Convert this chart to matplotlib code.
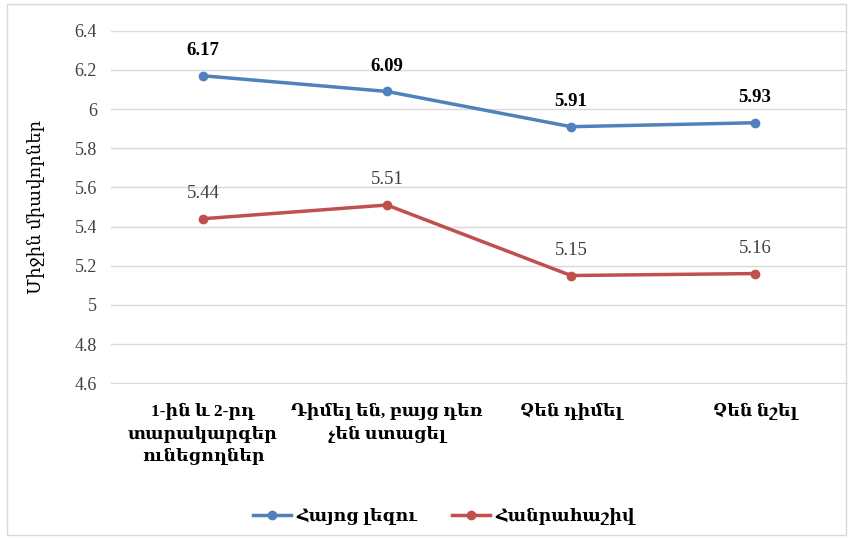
import matplotlib.pyplot as plt
import numpy as np

plt.rcParams['font.family'] = ['Liberation Serif', 'DejaVu Serif', 'DejaVu Sans']

# data
categories = ["1-ին և 2-րդ\nտարակարգեր\nունեցողներ",
              "Դիմել են, բայց դեռ\nչեն ստացել",
              "Չեն դիմել",
              "Չեն նշել"]
armenian_lang = [6.17, 6.09, 5.91, 5.93]
algebra = [5.44, 5.51, 5.15, 5.16]
series_names = ["Հայոց լեզու", "Հանրահաշիվ"]
y_ticks = [4.6, 4.8, 5.0, 5.2, 5.4, 5.6, 5.8, 6.0, 6.2, 6.4]
y_label = "Միջին միավորներ"

blue = "#4F81BD"
red = "#C0504D"
txt = "#404040"

fig = plt.figure(figsize=(8.53, 5.39), dpi=100)
ax = fig.add_axes([0.130, 0.289, 0.863, 0.654])

x = np.arange(len(categories))
ax.plot(x, armenian_lang, color=blue, lw=2.5, marker="o", ms=6, label=series_names[0])
ax.plot(x, algebra, color=red, lw=2.5, marker="o", ms=6, label=series_names[1])

for xi, v in zip(x, armenian_lang):
    ax.annotate(f"{v:.2f}", (xi, v), xytext=(0, 12), textcoords="offset points",
                ha="center", va="bottom", fontsize=13.5, fontweight="bold", color="black")
for xi, v in zip(x, algebra):
    ax.annotate(f"{v:.2f}", (xi, v), xytext=(0, 12), textcoords="offset points",
                ha="center", va="bottom", fontsize=13.5, color=txt)

ax.set_xlim(-0.5, len(categories) - 0.5)
ax.set_ylim(4.6, 6.4)
ax.set_yticks(y_ticks)
ax.set_yticklabels([f"{t:g}" for t in y_ticks], fontsize=13, color=txt)
ax.set_xticks(x)
ax.set_xticklabels(categories, fontsize=12.5, fontweight="bold", color="black",
                   linespacing=1.45, va="top")
ax.tick_params(axis="both", length=0, pad=10)
ax.tick_params(axis="x", pad=14)
ax.grid(axis="y", color="#D9D9D9", lw=1)
ax.set_axisbelow(True)
for s in ["top", "right", "left"]:
    ax.spines[s].set_visible(False)
ax.spines["bottom"].set_color("#D9D9D9")

ax.set_ylabel(y_label, fontsize=13, color="black", labelpad=4)
ax.yaxis.set_label_coords(-0.09, 0.5)

fig.legend(loc="center", bbox_to_anchor=(0.52, 0.042), ncol=2, frameon=False,
           prop={"size": 12.5, "weight": "bold"}, handlelength=2.2, columnspacing=2.0,
           handletextpad=0.3)

border = plt.Rectangle((0.008, 0.008), 0.984, 0.984, transform=fig.transFigure,
                       fill=False, ec="#D9D9D9", lw=1)
fig.patches.append(border)

fig.savefig("out.png", dpi=100)
